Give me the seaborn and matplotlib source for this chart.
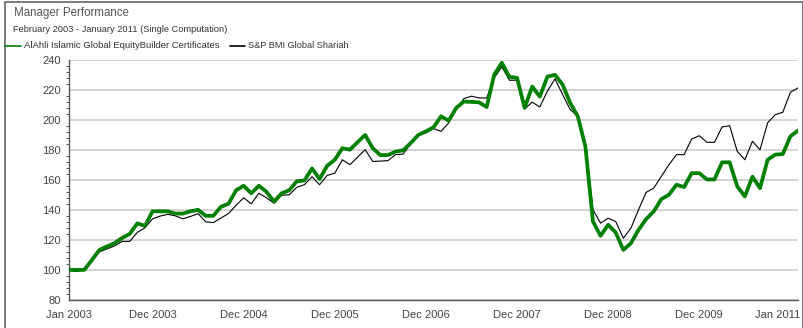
import matplotlib
matplotlib.use("Agg")
import matplotlib.pyplot as plt
import matplotlib.transforms as mtransforms
from matplotlib.lines import Line2D
from matplotlib.patches import Rectangle
from matplotlib.ticker import MultipleLocator
import numpy as np
import pandas as pd
import seaborn as sns

# Month-end index values, Jan 2003 = 100 (97 months, Jan 2003 .. Jan 2011)
alahli = [
    100, 100, 100, 106.5, 113.3, 115.6, 117.8, 121.3, 124, 131,
    129.3, 139, 139, 139, 137.5, 137.5, 139, 140, 136, 136,
    142, 144, 153, 156, 151, 156, 152, 145.5, 151, 153,
    159, 159.5, 167.5, 160.5, 169.3, 173.3, 181, 180, 185, 189.8,
    181, 176.4, 176.4, 178.7, 179.6, 184.4, 189.8, 192.2, 194.9, 202.2,
    199.3, 207.8, 212, 211.8, 211.5, 208.4, 230, 237.8, 228.4, 227.8,
    207.8, 222, 215.3, 228.6, 229.8, 223.3, 211.1, 202.2, 182.2, 132.2,
    122.7, 130, 124.9, 113.3, 117.8, 126.7, 133.8, 138.9, 147.1, 150,
    156.7, 155.1, 164.4, 164.4, 160.2, 160.2, 171.6, 171.6, 155.6, 148.9,
    162, 154.4, 173.3, 176.7, 177.1, 188.9, 192.7,
]
sp_bmi = [
    100, 99, 100, 106, 112, 114, 116, 119, 119, 125,
    128, 134, 135.8, 137, 136, 134, 135.6, 137.5, 132, 131.5,
    134.5, 137.5, 143, 148, 144, 151, 148, 144.4, 149.7, 150,
    155, 156.7, 162, 156.7, 162.9, 164.4, 173.3, 170, 175, 180,
    172.2, 172.4, 172.7, 176.7, 177.1, 184, 190, 191.1, 194, 192.2,
    197.8, 207.1, 214, 215.6, 214.4, 214.4, 227.8, 235.1, 226.2, 226.2,
    207.1, 211.6, 208.4, 219, 227.1, 216.7, 206.7, 202.2, 184.4, 140,
    131.1, 134.4, 132.2, 121.1, 127.8, 140, 151.6, 154.4, 162.2, 170,
    176.7, 176.7, 187.1, 189.3, 184.9, 184.9, 195.1, 196, 178.9, 173.3,
    185.6, 180, 197.8, 203.3, 204.9, 218.2, 221.1,
]
series_names = ["AlAhli Islamic Global EquityBuilder Certificates", "S&P BMI Global Shariah"]
tick_months = [0, 11, 23, 35, 47, 59, 71, 83, 95]
tick_labels = ["Jan 2003", "Dec 2003", "Dec 2004", "Dec 2005", "Dec 2006",
               "Dec 2007", "Dec 2008", "Dec 2009", "Jan 2011"]
y_ticks = [80, 100, 120, 140, 160, 180, 200, 220, 240]

month = np.arange(len(alahli))
df = pd.DataFrame({"month": month, series_names[0]: alahli, series_names[1]: sp_bmi})

sns.set_style("white")
plt.rcParams["font.family"] = ["Liberation Sans", "DejaVu Sans"]

W, H = 804, 328
fig = plt.figure(figsize=(W / 100, H / 100), dpi=100)
ax = fig.add_axes([69 / W, 1 - 300 / H, (798 - 69) / W, (300 - 59.5) / H])

green = "#008000"
sns.lineplot(data=df, x="month", y=series_names[1], ax=ax, color="black",
             linewidth=0.8, zorder=3)
sns.lineplot(data=df, x="month", y=series_names[0], ax=ax, color=green,
             linewidth=2.7, zorder=4)

ax.set_xlim(0, 96)
ax.set_ylim(80, 240)
ax.set_xticks(tick_months)
ax.set_xticklabels(tick_labels)
ax.set_yticks(y_ticks)
ax.yaxis.set_minor_locator(MultipleLocator(4))
ax.set_xlabel("")
ax.set_ylabel("")

ax.grid(axis="y", color="#cccccc", linewidth=1.2, zorder=0)
ax.set_axisbelow(True)
for side in ["top", "right"]:
    ax.spines[side].set_visible(False)
for side in ["left", "bottom"]:
    ax.spines[side].set_color("#555555")
    ax.spines[side].set_linewidth(1.0)

ax.tick_params(axis="both", which="major", direction="out", length=4, width=0.8,
               color="#555555", labelsize=8, labelcolor="#444444", pad=2)
ax.tick_params(axis="y", which="minor", direction="out", length=2.5, width=0.7,
               color="#555555", left=True)
ax.tick_params(axis="x", pad=3)

# keep the last date label inside the figure edge
last = ax.get_xticklabels()[-1]
last.set_horizontalalignment("right")
last.set_transform(last.get_transform() +
                   mtransforms.ScaledTranslation(10 / 100, 0, fig.dpi_scale_trans))

# Titles
fig.text(14 / W, 1 - 13 / H, "Manager Performance", fontsize=8.3, color="#555555",
         ha="left", va="center")
fig.text(13 / W, 1 - 29 / H, "February 2003 - January 2011 (Single Computation)",
         fontsize=6.7, color="#333333", ha="left", va="center")

# Legend row
yl = 1 - 46 / H
fig.add_artist(Line2D([5 / W, 21 / W], [yl, yl], color=green, linewidth=1.2))
fig.text(24 / W, yl, series_names[0], fontsize=6.8, color="#333333",
         ha="left", va="center")
fig.add_artist(Line2D([230 / W, 245 / W], [yl, yl], color="black", linewidth=1.2))
fig.text(248 / W, yl, series_names[1], fontsize=6.6, color="#333333",
         ha="left", va="center")

# Outer frame
fig.add_artist(Rectangle((5 / W, -0.1), (803 - 5) / W, 1.1 - 1.5 / H,
                         transform=fig.transFigure, fill=False,
                         edgecolor="#666666", linewidth=1.2))

fig.savefig("out.png", dpi=100)
